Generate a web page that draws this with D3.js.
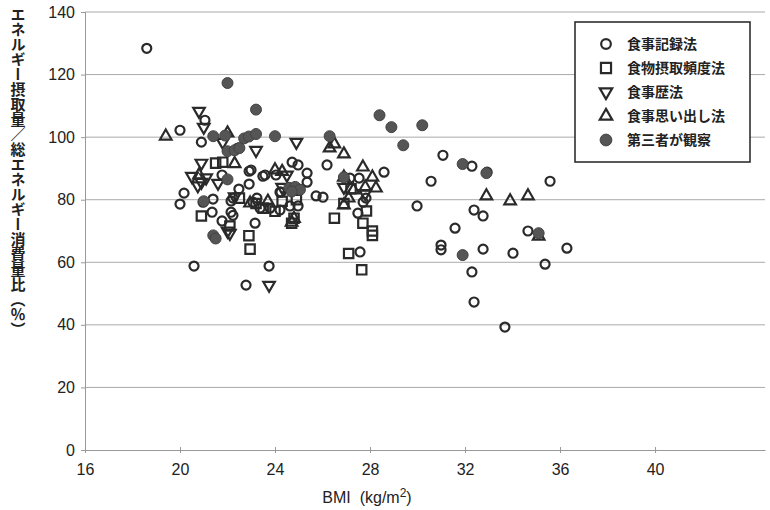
<!DOCTYPE html>
<html>
<head>
<meta charset="utf-8">
<script src="https://cdn.jsdelivr.net/npm/d3@7"></script>
<style>
  body { margin: 0; background: #fff; }
  svg { display: block; }
  .tick text { font-family: "Liberation Sans", Arial, sans-serif; font-size: 16px; fill: #222; }
  .jp { font-family: "Noto Sans CJK JP", sans-serif; fill: #222; }
</style>
</head>
<body>
<svg id="chart" width="770" height="510"></svg>
<script>
// BMI (kg/m2), ratio (%)
var recordData = [
  [18.6,128.4],[20.0,102.2],[21.05,105.4],[20.9,98.4],[22.44,96.5],[22.91,89.1],[21.77,87.9],
  [20.17,82.1],[20.0,78.6],[20.97,79.2],[21.39,80.2],[22.15,79.6],[22.48,83.4],[21.35,76.0],
  [21.77,73.2],[22.15,76.0],[23.16,72.5],[22.91,85.0],[23.24,80.5],[24.25,82.4],[24.72,92.0],
  [23.58,87.9],[24.04,87.9],[23.07,79.2],[23.37,77.3],[23.79,77.3],[24.21,76.7],[20.59,58.8],
  [22.78,52.7],[23.75,58.8],[27.58,63.3],[27.49,75.7],[24.97,78.0],[24.63,78.0],[27.71,79.2],
  [22.99,89.5],[24.97,91.1],[25.35,88.5],[26.19,91.1],[25.73,81.2],[26.02,80.8],[23.49,87.5],
  [24.21,82.4],[25.35,85.6],[27.16,86.9],[27.54,86.9],[27.83,80.5],[28.59,88.8],[31.07,94.2],
  [30.57,85.9],[32.29,90.7],[32.93,88.8],[35.58,85.9],[29.98,78.0],[32.38,76.7],[32.76,74.8],
  [31.58,70.9],[30.99,65.5],[30.99,64.0],[32.76,64.2],[34.02,62.9],[34.65,70.0],[36.29,64.5],
  [35.37,59.4],[32.29,56.9],[32.38,47.3],[33.68,39.3],[22.23,80.5],[22.23,75.0]
];
var ffqData = [
  [21.5,91.7],[21.8,92.0],[20.9,74.8],[22.1,71.6],[22.9,68.5],[22.95,64.2],[24.7,72.5],
  [26.5,74.1],[23.5,77.3],[24.0,76.3],[24.8,74.1],[27.7,72.5],[27.85,76.4],[28.1,68.6],
  [27.1,62.8],[27.65,57.6],[26.9,78.8],[23.2,78.8],[24.3,79.5],[22.5,80.5],[24.9,80.0],
  [27.2,83.5],[28.1,70.0]
];
var historyData = [
  [20.8,108.3],[21.0,103.2],[21.8,98.4],[20.9,91.7],[20.5,87.5],[20.9,85.6],[21.6,85.3],
  [20.75,84.5],[23.2,95.8],[24.9,98.4],[24.5,87.9],[22.0,70.0],[22.1,69.3],[23.75,52.7],
  [21.1,87.0],[22.3,81.0],[24.3,84.0],[26.9,84.0],[27.8,82.0]
];
var recallData = [
  [19.4,100.3],[22.0,101.3],[20.8,87.9],[22.95,78.9],[24.7,72.8],[24.0,89.5],[24.3,89.0],
  [26.3,96.5],[26.5,97.8],[26.9,94.6],[27.7,90.4],[28.1,87.2],[28.25,83.7],[27.3,83.1],
  [26.9,87.2],[27.8,84.0],[26.9,78.3],[27.1,80.5],[24.8,74.0],[32.9,81.2],[33.9,79.6],
  [34.65,81.2],[35.1,68.3],[23.7,79.5],[22.3,91.5]
];
var observedData = [
  [22.0,117.3],[23.2,108.8],[21.4,100.3],[21.9,100.5],[22.7,99.6],[22.9,100.2],[23.2,101.0],
  [24.0,100.3],[26.3,100.3],[22.0,95.5],[22.3,95.8],[22.5,96.5],[24.6,83.8],[24.85,84.1],
  [25.05,83.2],[24.7,82.6],[26.9,87.2],[28.4,107.0],[28.9,103.2],[30.2,103.8],[29.4,97.4],
  [31.9,91.4],[32.9,88.5],[21.4,68.6],[21.5,67.6],[31.9,62.3],[35.1,69.3],[21.0,79.5],[22.0,86.5]
];

var seriesNames = ['食事記録法', '食物摂取頻度法', '食事歴法', '食事思い出し法', '第三者が観察'];
var xTicks = [16, 20, 24, 28, 32, 36, 40];
var yTicks = [0, 20, 40, 60, 80, 100, 120, 140];
var yLabel = 'エネルギー摂取量／総エネルギー消費量比（％）';

var svg = d3.select('#chart');
var margin = { left: 85, right: 5, top: 12, bottom: 60 };
var width = 770, height = 510;

var x = d3.scaleLinear().domain([16, 44.63]).range([margin.left, width - margin.right]);
var y = d3.scaleLinear().domain([0, 140]).range([height - margin.bottom, margin.top]);

// gridlines
svg.append('g').selectAll('line').data(yTicks.filter(d => d > 0)).enter()
  .append('line')
  .attr('x1', x(16)).attr('x2', x(44.63))
  .attr('y1', d => y(d)).attr('y2', d => y(d))
  .attr('stroke', '#aaa').attr('stroke-width', 1);

var yAxis = svg.append('g')
  .attr('transform', 'translate(' + margin.left + ',0)')
  .call(d3.axisLeft(y).tickValues(yTicks).tickSize(4).tickPadding(6));
yAxis.select('.domain').attr('stroke', '#999');
yAxis.selectAll('.tick line').attr('stroke', '#999');

var xAxis = svg.append('g')
  .attr('transform', 'translate(0,' + y(0) + ')')
  .call(d3.axisBottom(x).tickValues(xTicks).tickSize(3).tickSizeOuter(0).tickPadding(8));
xAxis.select('.domain').attr('stroke', '#999');
xAxis.selectAll('.tick line').attr('stroke', '#999').attr('y1', -3);
xAxis.selectAll('.tick text').attr('dy', '0.9em');

// y label, vertical writing
svg.append('text')
  .attr('class', 'jp')
  .attr('x', 18).attr('y', 7)
  .style('writing-mode', 'vertical-rl')
  .style('font-size', '15px')
  .style('font-weight', 700)
  .text(yLabel);

// x label
var xl = svg.append('text')
  .attr('x', 367).attr('y', 503)
  .attr('text-anchor', 'middle')
  .style('font-family', '"Liberation Sans", Arial, sans-serif')
  .style('font-size', '16px')
  .style('fill', '#222');
xl.append('tspan').text('BMI\u00a0\u00a0(kg/m');
xl.append('tspan').attr('dy', -6).style('font-size', '12px').text('2');
xl.append('tspan').attr('dy', 6).text(')');

var ink = '#2a2a2a';
var symbolDefs = [
  { data: recordData, type: d3.symbolCircle, size: 64, fill: 'none', rot: 0 },
  { data: ffqData, type: d3.symbolSquare, size: 88, fill: 'none', rot: 0 },
  { data: historyData, type: d3.symbolTriangle, size: 58, fill: 'none', rot: 180 },
  { data: recallData, type: d3.symbolTriangle, size: 58, fill: 'none', rot: 0 },
  { data: observedData, type: d3.symbolCircle, size: 95, fill: '#555', rot: 0 }
];

var plot = svg.append('g');
symbolDefs.forEach(function (s) {
  plot.append('g').selectAll('path').data(s.data).enter()
    .append('path')
    .attr('d', d3.symbol().type(s.type).size(s.size))
    .attr('transform', d => 'translate(' + x(d[0]) + ',' + y(d[1]) + ') rotate(' + s.rot + ')')
    .attr('fill', s.fill)
    .attr('stroke', s.fill === 'none' ? ink : '#444')
    .attr('stroke-width', s.fill === 'none' ? 2.2 : 1);
});

// legend
var legend = svg.append('g');
legend.append('rect')
  .attr('x', 575).attr('y', 22).attr('width', 175).attr('height', 140)
  .attr('fill', '#fff').attr('stroke', '#222').attr('stroke-width', 1.5);
var legendRows = legend.selectAll('g.row').data(symbolDefs).enter()
  .append('g').attr('class', 'row')
  .attr('transform', (d, i) => 'translate(606,' + (44 + i * 24) + ')');
legendRows.append('path')
  .attr('d', d => d3.symbol().type(d.type).size(d.size * 1.15)())
  .attr('transform', d => 'rotate(' + d.rot + ')')
  .attr('fill', d => d.fill)
  .attr('stroke', d => d.fill === 'none' ? ink : '#444')
  .attr('stroke-width', d => d.fill === 'none' ? 2.2 : 1);
legendRows.append('text')
  .attr('class', 'jp')
  .attr('x', 21).attr('dy', '0.35em')
  .style('font-size', '14px')
  .style('font-weight', 700)
  .text((d, i) => seriesNames[i]);
</script>
</body>
</html>
